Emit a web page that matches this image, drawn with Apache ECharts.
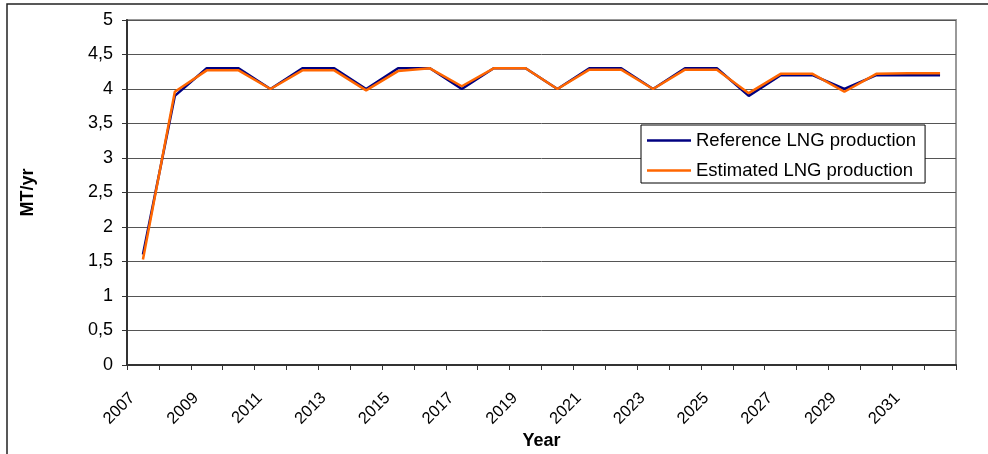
<!DOCTYPE html>
<html>
<head>
<meta charset="utf-8">
<script src="https://cdn.jsdelivr.net/npm/echarts@6/dist/echarts.min.js"></script>
<style>
  html, body { margin: 0; padding: 0; background: #fff; }
  #chart { width: 988px; height: 454px; }
</style>
</head>
<body>
<div id="chart"></div>
<script>
// Annual LNG production, reference profile vs. estimate (MT/yr)
const years = ['2007', '2008', '2009', '2010', '2011', '2012', '2013', '2014', '2015', '2016',
               '2017', '2018', '2019', '2020', '2021', '2022', '2023', '2024', '2025', '2026',
               '2027', '2028', '2029', '2030', '2031', '2032'];
const referenceProduction = [1.6, 3.9, 4.3, 4.3, 4.0, 4.3, 4.3, 4.0, 4.3, 4.3,
                             4.0, 4.3, 4.3, 4.0, 4.3, 4.3, 4.0, 4.3, 4.3, 3.9,
                             4.2, 4.2, 4.0, 4.2, 4.2, 4.2];
const estimatedProduction = [1.53, 3.96, 4.27, 4.27, 4.0, 4.27, 4.27, 3.98, 4.26, 4.3,
                             4.04, 4.3, 4.3, 4.0, 4.28, 4.28, 4.0, 4.28, 4.28, 3.94,
                             4.22, 4.22, 3.96, 4.22, 4.23, 4.23];
const seriesNames = ['Reference LNG production', 'Estimated LNG production'];

const font = 'Arial, "Liberation Sans", sans-serif';
const chart = echarts.init(document.getElementById('chart'), null, { renderer: 'canvas' });

chart.setOption({
  animation: false,
  backgroundColor: '#fff',
  textStyle: { fontFamily: font, color: '#000' },
  graphic: [{
    type: 'rect',
    shape: { x: 7, y: 4, width: 1000, height: 470 },
    style: { fill: 'none', stroke: '#222', lineWidth: 1.5 },
    silent: true,
    z: 0
  }],
  grid: {
    left: 127, top: 20, right: 32, bottom: 89,
    containLabel: false,
    outerBoundsMode: 'none',
    show: true, borderColor: '#999', borderWidth: 2, backgroundColor: 'transparent'
  },
  legend: {
    orient: 'vertical',
    left: 641, top: 125,
    backgroundColor: '#fff',
    borderColor: '#000', borderWidth: 1,
    padding: [6, 9, 3, 6],
    itemGap: 11,
    itemWidth: 44, itemHeight: 2.5,
    icon: 'rect',
    textStyle: { fontFamily: font, fontSize: 18.5, color: '#000' },
    data: seriesNames
  },
  xAxis: {
    type: 'category',
    data: years,
    boundaryGap: true,
    name: 'Year',
    nameLocation: 'middle',
    nameGap: 67,
    nameMoveOverlap: false,
    nameTextStyle: { fontFamily: font, fontSize: 18, fontWeight: 'bold', color: '#000' },
    axisLine: { lineStyle: { color: '#333', width: 2 } },
    axisTick: { show: true, interval: 0, length: 5, lineStyle: { color: '#333', width: 1 } },
    axisLabel: {
      interval: 1, rotate: 45, margin: 20,
      padding: [0, 15, 0, 0],
      fontFamily: font, fontSize: 16.5, color: '#000'
    },
    splitLine: { show: false }
  },
  yAxis: {
    type: 'value',
    min: 0, max: 5, interval: 0.5,
    name: 'MT/yr',
    nameLocation: 'middle',
    nameRotate: 90,
    nameGap: 90,
    nameMoveOverlap: false,
    nameTextStyle: { fontFamily: font, fontSize: 18, fontWeight: 'bold', color: '#000' },
    axisLine: { show: true, lineStyle: { color: '#333', width: 2 } },
    axisTick: { show: true, length: 5, lineStyle: { color: '#333', width: 1 } },
    axisLabel: {
      margin: 14, fontFamily: font, fontSize: 18, color: '#000',
      formatter: v => String(v).replace('.', ',')
    },
    splitLine: { show: true, lineStyle: { color: '#555', width: 1 } }
  },
  series: [
    {
      name: seriesNames[0],
      type: 'line',
      data: referenceProduction,
      symbol: 'none',
      color: '#000080',
      lineStyle: { color: '#000080', width: 2.5 },
      z: 3
    },
    {
      name: seriesNames[1],
      type: 'line',
      data: estimatedProduction,
      symbol: 'none',
      color: '#FF6600',
      lineStyle: { color: '#FF6600', width: 2.5 },
      z: 4
    }
  ]
});
</script>
</body>
</html>
